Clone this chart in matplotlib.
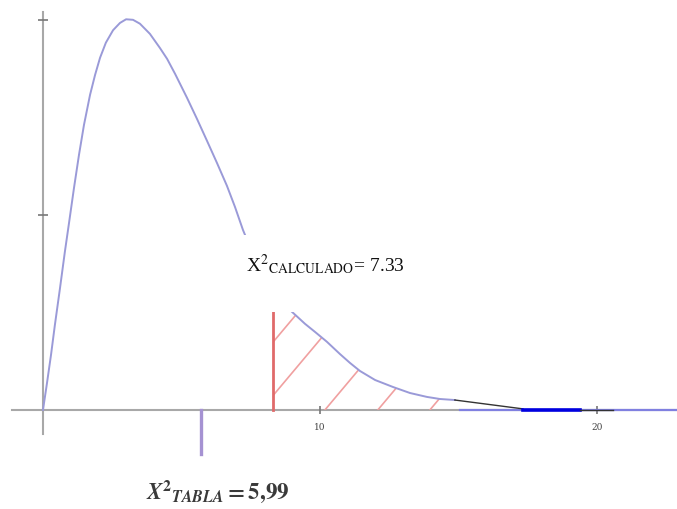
import numpy as np
import matplotlib
matplotlib.use("Agg")
import matplotlib.pyplot as plt
from matplotlib.patches import Rectangle

# --- data (x in chi-square units, y in density units) ---
curve_x = [0.00, 0.14, 0.29, 0.43, 0.61, 0.79, 0.94, 1.12, 1.30, 1.48, 1.70,
           1.88, 2.06, 2.27, 2.53, 2.78, 3.00, 3.25, 3.50, 3.86, 4.22, 4.48,
           4.77, 5.20, 5.56, 5.92, 6.28, 6.64, 6.93, 7.22, 7.65, 8.20, 8.63,
           8.99, 9.46, 9.82, 10.25, 10.72, 11.08, 11.44, 11.99, 12.64, 13.25,
           13.86, 14.33, 14.87]
curve_y = [0.0, 0.0100, 0.0212, 0.0327, 0.0465, 0.0608, 0.0719, 0.0854, 0.0981,
           0.1096, 0.1212, 0.1288, 0.1354, 0.1412, 0.1460, 0.1488, 0.1502,
           0.1500, 0.1485, 0.1446, 0.1392, 0.1350, 0.1292, 0.1200, 0.1119,
           0.1035, 0.0950, 0.0862, 0.0781, 0.0692, 0.0581, 0.0477, 0.0419,
           0.0377, 0.0331, 0.0300, 0.0262, 0.0215, 0.0181, 0.0150, 0.0115,
           0.0088, 0.0065, 0.0050, 0.0042, 0.0038]

tail_dark_x = [14.87, 17.33]
tail_dark_y = [0.0038, 0.0004]
tail_blue_x = [17.33, 19.39]
tail_end_x = [19.39, 20.58]

x_calculado = 8.30     # red line
x_tabla = 5.70         # purple line
tabla_len = 0.0169

hatch_starts = [6.25, 7.87, 10.18, 12.09, 13.97]
hatch_slope = 0.01268

xtick_vals = [10, 20]
xtick_labels = ["10", "20"]
ytick_vals = [0.075, 0.15]

label_calc = r"X$^{2}$$_{\mathrm{CALCULADO}}$= 7.33"
label_tabla = r"$\mathbfit{X}^{\mathbf{2}}{}_{\mathbfit{TABLA}}\mathbf{=5{,}99}$"

# --- figure ---
plt.rcParams["mathtext.fontset"] = "stix"
fig = plt.figure(figsize=(6.77, 5.10), dpi=100)
ax = fig.add_axes([0, 0, 1, 1])
ax.set_xlim(-1.552, 22.89)
ax.set_ylim(-0.0381, 0.158)
ax.axis("off")

axis_col = "#a8a8a8"
ax.axhline(0, xmin=12 / 677, xmax=1, color=axis_col, lw=1.5, zorder=1)
ax.axvline(0, ymin=75 / 510, ymax=497 / 510, color=axis_col, lw=1.5, zorder=1)
ax.plot(xtick_vals, [0] * len(xtick_vals), ls="none", marker="|", ms=6,
        mew=1.2, color="#777777", zorder=2)
ax.plot([0] * len(ytick_vals), ytick_vals, ls="none", marker="_", ms=7,
        mew=1.2, color="#777777", zorder=2)
for v, s in zip(xtick_vals, xtick_labels):
    ax.annotate(s, (v, 0), xytext=(0, -9), textcoords="offset points",
                ha="center", va="top", fontsize=6.5, family="DejaVu Serif",
                color="#444444")

# blue-ish part of the axis on the right
ax.plot([15.05, 22.89], [0, 0], color="#8080e0", lw=1.6, zorder=2)

# curve
ax.plot(curve_x, curve_y, color="#9a9ad8", lw=1.4, zorder=3)
ax.plot(tail_dark_x, tail_dark_y, color="#333333", lw=1.0, zorder=3)
ax.plot(tail_blue_x, [0, 0], color="#0000e0", lw=2.6, zorder=3)
ax.plot(tail_end_x, [0, 0], color="#333333", lw=1.0, zorder=3)

# rejection region: red line + sparse hatch clipped to the area under the curve
cx = np.array(curve_x)
cy = np.array(curve_y)
y_at_calc = np.interp(x_calculado, cx, cy)
mask = cx > x_calculado
poly_x = [x_calculado, x_calculado] + list(cx[mask]) + [cx[mask][-1]]
poly_y = [0, y_at_calc] + list(cy[mask]) + [0]
region = ax.fill(poly_x, poly_y, color="none", lw=0)[0]
for h in hatch_starts:
    ln, = ax.plot([h, h + 6], [0, 6 * hatch_slope], color="#f0a0a0", lw=1.2,
                  zorder=2)
    ln.set_clip_path(region)
ax.plot([x_calculado, x_calculado], [0, y_at_calc], color="#e06a6a", lw=2.0,
        zorder=4)

# critical value marker below the axis
ax.plot([x_tabla, x_tabla], [0, -tabla_len], color="#a592d2", lw=2.4, zorder=3)

# white label box hiding part of the curve
ax.add_patch(Rectangle((0.340, 0.386), 0.280, 0.151, transform=ax.transAxes,
                       facecolor="white", edgecolor="none", zorder=5))
ax.text(0.363, 0.467, label_calc, transform=ax.transAxes, fontsize=14,
        family="Liberation Serif", color="#111111", va="baseline", zorder=6)
ax.text(0.215, 0.022, label_tabla, transform=ax.transAxes, fontsize=16.5,
        color="#3a3a3a", va="baseline", zorder=6)

fig.savefig("out.png", dpi=100)
